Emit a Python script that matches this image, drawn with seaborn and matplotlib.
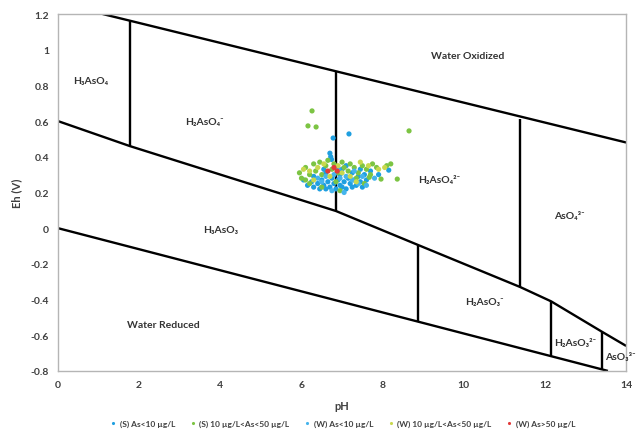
import numpy as np
import pandas as pd
import matplotlib
matplotlib.use("Agg")
import matplotlib.pyplot as plt
import seaborn as sns

# stability field boundaries (pH, Eh)
upper_ph = [1.1, 14]
upper_eh = [1.2, 0.48]
mid_ph = [0, 1.77, 6.85, 8.87, 11.39, 12.15, 13.4, 14]
mid_eh = [0.6, 0.46, 0.096, -0.094, -0.33, -0.41, -0.58, -0.66]
lower_ph = [0, 13.55]
lower_eh = [0, -0.8]
vert_ph = [1.77, 6.85, 8.87, 11.39, 12.15, 13.4]
vert_top = [1.163, 0.875, -0.094, 0.612, -0.41, -0.58]
vert_bot = [0.46, 0.096, -0.524, -0.33, -0.717, -0.791]

# sample groups
s_lt10_ph = [7.17, 6.78, 6.70, 6.72, 6.74, 6.05, 6.15, 6.25, 6.3, 6.4, 6.45, 6.5, 6.55, 6.6, 6.65,
             6.7, 6.75, 6.8, 6.85, 6.9, 6.95, 7.0, 7.05, 7.1, 7.15, 7.2, 7.25, 7.3, 7.35, 7.4,
             7.45, 7.5, 7.55, 7.6, 7.7, 7.9, 8.15, 7.0, 6.6, 6.3, 7.25, 7.1, 6.95, 6.55, 7.45]
s_lt10_eh = [0.528, 0.505, 0.42, 0.40, 0.385, 0.27, 0.24, 0.26, 0.23, 0.25, 0.22, 0.27, 0.24, 0.22, 0.26,
             0.23, 0.28, 0.25, 0.22, 0.27, 0.24, 0.23, 0.26, 0.22, 0.28, 0.25, 0.23, 0.27, 0.24, 0.29,
             0.26, 0.23, 0.30, 0.27, 0.32, 0.30, 0.325, 0.33, 0.31, 0.29, 0.31, 0.35, 0.30, 0.33, 0.33]
s_mid_ph = [6.26, 6.16, 6.36, 8.65, 5.95, 6.0, 6.1, 6.2, 6.3, 6.35, 6.45, 6.5, 6.6, 6.65, 6.75,
            6.8, 6.9, 7.0, 7.05, 7.15, 7.2, 7.3, 7.4, 7.5, 7.6, 7.7, 7.75, 7.85, 7.96, 8.1,
            8.2, 8.36, 7.67, 6.2, 6.5, 6.85, 7.35, 6.1, 6.95, 7.55]
s_mid_eh = [0.657, 0.573, 0.567, 0.545, 0.31, 0.28, 0.34, 0.30, 0.36, 0.32, 0.37, 0.30, 0.35, 0.38, 0.33,
            0.36, 0.31, 0.37, 0.34, 0.32, 0.36, 0.34, 0.31, 0.35, 0.33, 0.30, 0.36, 0.34, 0.275, 0.35,
            0.36, 0.275, 0.285, 0.25, 0.23, 0.26, 0.28, 0.27, 0.21, 0.25]
w_lt10_ph = [6.4, 6.6, 6.8, 6.95, 7.1, 7.25, 7.4, 7.6, 6.75, 7.05, 6.9, 7.3, 6.5, 7.5, 7.8]
w_lt10_eh = [0.28, 0.29, 0.30, 0.28, 0.29, 0.27, 0.25, 0.24, 0.21, 0.20, 0.33, 0.32, 0.26, 0.29, 0.28]
w_mid_ph = [6.05, 6.3, 6.55, 6.7, 7.0, 7.2, 7.45, 7.65, 7.9, 6.4, 6.9, 7.35, 8.05, 6.2]
w_mid_eh = [0.33, 0.27, 0.36, 0.29, 0.31, 0.29, 0.37, 0.35, 0.33, 0.34, 0.35, 0.26, 0.34, 0.32]
w_gt50_ph = [6.65, 6.88, 6.8]
w_gt50_eh = [0.32, 0.32, 0.34]

groups = ["(S) As<10 µg/L", "(S) 10 µg/L<As<50 µg/L", "(W) As<10 µg/L",
          "(W) 10 µg/L<As<50 µg/L", "(W) As>50 µg/L"]
colors = ["#1f9fe0", "#7cc443", "#45b4ec", "#c9d84e", "#e23a3a"]

frames = []
for g, ph, eh in zip(groups,
                     [s_lt10_ph, s_mid_ph, w_lt10_ph, w_mid_ph, w_gt50_ph],
                     [s_lt10_eh, s_mid_eh, w_lt10_eh, w_mid_eh, w_gt50_eh]):
    frames.append(pd.DataFrame({"pH": ph, "Eh": eh, "group": g}))
df = pd.concat(frames, ignore_index=True)

sns.set_style("white")
plt.rcParams["font.family"] = ["Lato", "DejaVu Sans"]

fig = plt.figure(figsize=(6.37, 4.35), dpi=100)
ax = fig.add_axes([0.091, 0.145, 0.892, 0.8205])

lk = dict(color="black", lw=1.7, zorder=2, solid_capstyle="butt")
ax.plot(upper_ph, upper_eh, **lk)
ax.plot(mid_ph, mid_eh, **lk)
ax.plot(lower_ph, lower_eh, **lk)
for x, t, b in zip(vert_ph, vert_top, vert_bot):
    ax.plot([x, x], [t, b], **lk)

sns.scatterplot(data=df, x="pH", y="Eh", hue="group", hue_order=groups,
                palette=dict(zip(groups, colors)), s=14, linewidth=0,
                marker="o", ax=ax, zorder=3)

txt = dict(fontsize=7.5, fontweight="bold", color="#333333", ha="center", va="center")
ax.text(10.1, 0.965, "Water Oxidized", **txt)
ax.text(0.8, 0.83, "H₃AsO₄", **txt)
ax.text(3.6, 0.60, "H₂AsO₄⁻", **txt)
ax.text(9.4, 0.275, "H₂AsO₄²⁻", **txt)
ax.text(12.6, 0.07, "AsO₄³⁻", **txt)
ax.text(4.0, -0.005, "H₃AsO₃", **txt)
ax.text(2.6, -0.54, "Water Reduced", **txt)
ax.text(10.5, -0.41, "H₂AsO₃⁻", **txt)
ax.text(12.75, -0.64, "H₂AsO₃²⁻", **txt)
ax.text(13.85, -0.72, "AsO₃³⁻", clip_on=False, **txt)

ax.set_xlim(0, 14)
ax.set_ylim(-0.8, 1.2)
ax.set_xticks(np.arange(0, 15, 2))
yt = [-0.8, -0.6, -0.4, -0.2, 0, 0.2, 0.4, 0.6, 0.8, 1, 1.2]
ax.set_yticks(yt)
ax.set_yticklabels([("%g" % v) for v in yt])
ax.tick_params(axis="both", labelsize=7.5, labelcolor="#404040", length=3,
               color="#b0b0b0", direction="out", width=0.8)
for lab in ax.get_xticklabels() + ax.get_yticklabels():
    lab.set_fontweight("bold")
for sp in ax.spines.values():
    sp.set_color("#b5b5b5")
    sp.set_linewidth(1.0)

ax.set_xlabel("pH", fontsize=8, fontweight="bold", color="#404040", labelpad=8)
ax.set_ylabel("Eh (V)", fontsize=8, fontweight="bold", color="#404040", labelpad=6)

leg = ax.legend(loc="center", bbox_to_anchor=(0.5, -0.148), ncol=5, frameon=False,
                fontsize=6, markerscale=0.6, handletextpad=0.3, columnspacing=1.6,
                handlelength=1.0)
for t in leg.get_texts():
    t.set_fontweight("bold")
    t.set_color("#404040")

fig.savefig("out.png", dpi=100)
